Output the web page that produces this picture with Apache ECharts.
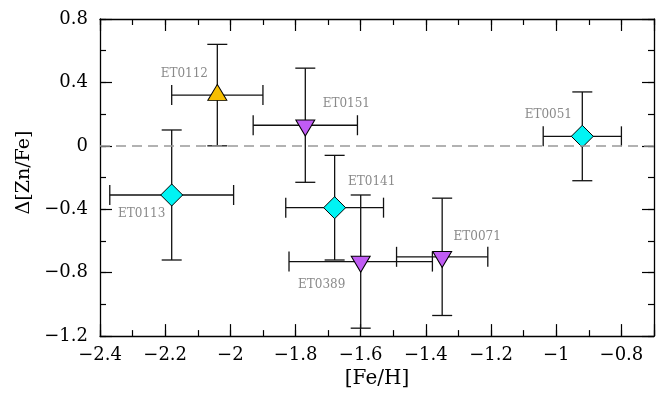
<!DOCTYPE html>
<html><head><meta charset="utf-8">
<script src="https://cdn.jsdelivr.net/npm/echarts@6/dist/echarts.min.js"></script>
<style>html,body{margin:0;padding:0;background:#fff}#c{width:669px;height:394px}</style>
</head><body><div id="c"></div>
<script>
// ---- data ----
const names    = ['ET0112', 'ET0151', 'ET0113', 'ET0051', 'ET0141', 'ET0389', 'ET0071'];
const feH      = [-2.04, -1.77, -2.18, -0.92, -1.68, -1.60, -1.35];
const feHErr   = [0.14, 0.16, 0.19, 0.12, 0.15, 0.22, 0.14];
const dZnFe    = [0.32, 0.13, -0.31, 0.06, -0.39, -0.73, -0.70];
const dZnFeErr = [0.32, 0.36, 0.41, 0.28, 0.33, 0.42, 0.37];
const markerType = ['up', 'down', 'diamond', 'diamond', 'diamond', 'down', 'down'];
const xTicksMajor = 0.2, xTicksMinor = 0.1, yTicksMajor = 0.4, yTicksMinor = 0.2;

// ---- presentation ----
const labelOffsets = [[-33,-21],[41,-21],[-30,19],[-34,-21],[37,-26],[-39,23],[35,-20]];
const FONT = 'DejaVu Serif';
const LINE = '#000';

const chart = echarts.init(document.getElementById('c'), null, {renderer: 'canvas'});

function fmt(v, step) {
  const k = v / step;
  if (Math.abs(k - Math.round(k)) > 1e-6) return '';
  let s = String(Number(v.toFixed(1)));
  return s.replace('-', '\u2212');
}

function mkAxis(dim, pos, interval, len, labels, line) {
  const isX = dim === 'x';
  const ax = {
    type: 'value', position: pos,
    min: isX ? -2.4 : -1.2, max: isX ? -0.7 : 0.8, interval: interval,
    axisLine: {show: line, onZero: false, lineStyle: {color: LINE, width: 1.3}},
    axisTick: {show: true, inside: true, length: len, lineStyle: {color: LINE, width: 1.2}},
    axisLabel: {show: labels, color: '#000', fontFamily: FONT, fontSize: 18,
      margin: isX ? 10 : 12,
      formatter: v => fmt(v, isX ? xTicksMajor : yTicksMajor)},
    splitLine: {show: false},
    minorTick: {show: false}
  };
  if (labels) {
    ax.name = isX ? '[Fe/H]' : '\u0394[Zn/Fe]';
    ax.nameLocation = 'middle';
    ax.nameGap = isX ? 31 : 66;
    ax.nameTextStyle = isX
      ? {color: '#000', fontFamily: FONT, fontSize: 20}
      : {color: '#000', fontFamily: FONT, fontSize: 19, padding: [0, 0, 0, 10]};
  }
  return ax;
}

const xAxes = [
  mkAxis('x', 'bottom', xTicksMajor, 12, true, true),
  mkAxis('x', 'bottom', xTicksMinor, 6, false, false),
  mkAxis('x', 'top', xTicksMajor, 12, false, true),
  mkAxis('x', 'top', xTicksMinor, 6, false, false)
];
const yAxes = [
  mkAxis('y', 'left', yTicksMajor, 12, true, true),
  mkAxis('y', 'left', yTicksMinor, 6, false, false),
  mkAxis('y', 'right', yTicksMajor, 12, false, true),
  mkAxis('y', 'right', yTicksMinor, 6, false, false)
];

const errData = names.map((n, i) => [feH[i], dZnFe[i], feHErr[i], dZnFeErr[i]]);

function pick(type) {
  const out = [];
  names.forEach((n, i) => { if (markerType[i] === type) out.push([feH[i], dZnFe[i]]); });
  return out;
}

const markerStyle = {borderColor: '#000', borderWidth: 1, opacity: 1};

chart.setOption({
  animation: false,
  grid: {left: 100, right: 15, top: 19, bottom: 56, containLabel: false},
  xAxis: xAxes,
  yAxis: yAxes,
  series: [
    {
      type: 'line', data: [], xAxisIndex: 0, yAxisIndex: 0, silent: true,
      markLine: {
        silent: true, symbol: ['none', 'none'], label: {show: false},
        lineStyle: {color: '#999', type: [10, 6], width: 1.5},
        data: [{yAxis: 0}]
      }
    },
    {
      type: 'custom', xAxisIndex: 0, yAxisIndex: 0, z: 3,
      data: errData,
      encode: {x: 0, y: 1},
      renderItem: function (params, api) {
        const x = api.value(0), y = api.value(1), xe = api.value(2), ye = api.value(3);
        const c = api.coord([x, y]);
        const l = api.coord([x - xe, y]), r = api.coord([x + xe, y]);
        const t = api.coord([x, y + ye]), b = api.coord([x, y - ye]);
        const cap = 10;
        const st = {stroke: '#111', lineWidth: 1.3, fill: null};
        const ln = (x1, y1, x2, y2) => ({type: 'line', shape: {x1, y1, x2, y2}, style: st});
        return {type: 'group', children: [
          ln(l[0], c[1], r[0], c[1]),
          ln(l[0], c[1] - cap, l[0], c[1] + cap),
          ln(r[0], c[1] - cap, r[0], c[1] + cap),
          ln(c[0], t[1], c[0], b[1]),
          ln(c[0] - cap, t[1], c[0] + cap, t[1]),
          ln(c[0] - cap, b[1], c[0] + cap, b[1])
        ]};
      }
    },
    {
      type: 'scatter', xAxisIndex: 0, yAxisIndex: 0, z: 4,
      symbol: 'triangle', symbolSize: [19, 16], symbolOffset: [0, -2.7],
      itemStyle: Object.assign({color: '#F6BE00'}, markerStyle),
      data: pick('up')
    },
    {
      type: 'scatter', xAxisIndex: 0, yAxisIndex: 0, z: 4,
      symbol: 'path://M0,0 L19,0 L9.5,16 Z', symbolSize: [19, 16], symbolOffset: [0, 2.7],
      itemStyle: Object.assign({color: '#C05CF4'}, markerStyle),
      data: pick('down')
    },
    {
      type: 'scatter', xAxisIndex: 0, yAxisIndex: 0, z: 4,
      symbol: 'diamond', symbolSize: [22, 22],
      itemStyle: Object.assign({color: '#00F4F4'}, markerStyle),
      data: pick('diamond')
    },
    {
      type: 'custom', xAxisIndex: 0, yAxisIndex: 0, z: 5,
      data: names.map((n, i) => [feH[i], dZnFe[i], i]),
      encode: {x: 0, y: 1},
      renderItem: function (params, api) {
        const i = api.value(2);
        const c = api.coord([api.value(0), api.value(1)]);
        const o = labelOffsets[i];
        return {type: 'text', x: c[0] + o[0], y: c[1] + o[1],
          style: {text: names[i], fill: '#8a8a8a', font: '12px "' + FONT + '"',
            align: 'center', verticalAlign: 'middle'}};
      }
    }
  ]
});
</script>
</body></html>
